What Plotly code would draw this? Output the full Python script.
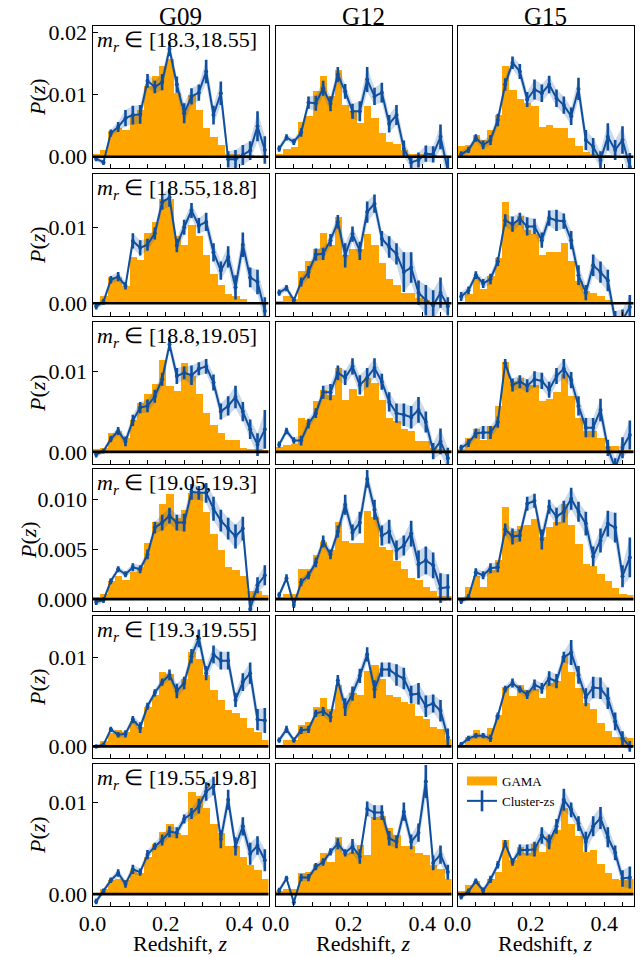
import plotly.graph_objects as go

W, H = 644, 957

# ---------------- data ----------------
FIELDS = ["G09", "G12", "G15"]
MAG_BINS = ["[18.3,18.55]", "[18.55,18.8]", "[18.8,19.05]",
            "[19.05,19.3]", "[19.3,19.55]", "[19.55,19.8]"]
Z_CENTERS = [0.01, 0.03, 0.05, 0.07, 0.09, 0.11, 0.13, 0.15, 0.17, 0.19, 0.21, 0.23,
             0.25, 0.27, 0.29, 0.31, 0.33, 0.35, 0.37, 0.39, 0.41, 0.43, 0.45, 0.47]
BIN_WIDTH = 0.02
X_TICKS = [0.0, 0.2, 0.4]
X_TICK_TEXT = ["0.0", "0.2", "0.4"]
Y_TICKS = [[0, 0.01, 0.02], [0, 0.01], [0, 0.01], [0, 0.005, 0.01], [0, 0.01], [0, 0.01]]
Y_TICK_TEXT = [["0.00", "0.01", "0.02"], ["0.00", "0.01"], ["0.00", "0.01"],
               ["0.000", "0.005", "0.010"], ["0.00", "0.01"], ["0.00", "0.01"]]
Y_RANGES = [[-0.0018, 0.0210], [-0.00167, 0.0170], [-0.0015, 0.0161],
            [-0.0012, 0.0131], [-0.0013, 0.0146], [-0.0013, 0.0142]]

# row 1: m_r in [18.3,18.55]
GAMA_G09_1 = [0.0005,0.0011,0.0041,0.0046,0.0043,0.0067,0.0075,0.0114,0.0129,0.0146,0.0157,0.0103,
              0.0078,0.0100,0.0075,0.0046,0.0031,0.0019,0.0005,0.0004,0.0002,0.0002,0.0001,0.0001]
CZ_G09_1 = [-0.0003,-0.0009,0.0038,0.0048,0.0062,0.0067,0.0068,0.0122,0.0112,0.0120,0.0173,0.0116,
            0.0070,0.0097,0.0103,0.0137,0.0067,0.0102,-0.0004,-0.0004,0.0003,0.0010,0.0049,0.0011]
ERR_G09_1 = [0.0004,0.0004,0.0006,0.0008,0.0013,0.0015,0.0015,0.0011,0.0010,0.0013,0.0011,0.0013,
             0.0016,0.0013,0.0013,0.0019,0.0015,0.0019,0.0013,0.0015,0.0016,0.0015,0.0024,0.0022]
GAMA_G12_1 = [0.0005,0.0012,0.0016,0.0056,0.0066,0.0106,0.0130,0.0097,0.0140,0.0083,0.0073,0.0055,
              0.0081,0.0063,0.0039,0.0023,0.0020,0.0011,0.0005,0.0005,0.0002,0.0002,0.0001,0.0000]
CZ_G12_1 = [0.0013,0.0031,0.0024,0.0039,0.0087,0.0086,0.0110,0.0085,0.0132,0.0105,0.0073,0.0073,
            0.0124,0.0097,0.0103,0.0053,0.0067,0.0013,-0.0009,-0.0005,0.0005,0.0004,0.0032,-0.0022]
ERR_G12_1 = [0.0005,0.0005,0.0005,0.0007,0.0010,0.0012,0.0012,0.0012,0.0012,0.0012,0.0012,0.0016,
             0.0020,0.0014,0.0016,0.0014,0.0016,0.0013,0.0010,0.0012,0.0013,0.0013,0.0020,0.0020]
GAMA_G15_1 = [0.0017,0.0019,0.0035,0.0027,0.0043,0.0067,0.0145,0.0108,0.0093,0.0086,0.0082,0.0048,
              0.0051,0.0047,0.0047,0.0030,0.0018,0.0008,0.0005,0.0003,0.0003,0.0001,0.0001,0.0000]
CZ_G15_1 = [0.0004,0.0011,0.0030,0.0019,0.0027,0.0059,0.0116,0.0151,0.0137,0.0092,0.0108,0.0102,
            0.0116,0.0094,0.0083,0.0065,0.0109,0.0027,0.0016,-0.0005,0.0032,0.0011,0.0027,-0.0016]
ERR_G15_1 = [0.0005,0.0005,0.0006,0.0007,0.0008,0.0010,0.0010,0.0010,0.0012,0.0012,0.0016,0.0014,
             0.0014,0.0014,0.0014,0.0014,0.0018,0.0016,0.0014,0.0014,0.0022,0.0016,0.0022,0.0022]

# row 2: m_r in [18.55,18.8]
GAMA_G09_2 = [0.0002,0.0010,0.0034,0.0034,0.0023,0.0061,0.0057,0.0093,0.0107,0.0137,0.0137,0.0089,
              0.0077,0.0103,0.0089,0.0063,0.0039,0.0024,0.0012,0.0009,0.0006,0.0001,0.0000,0.0000]
CZ_G09_2 = [-0.0004,0.0002,0.0031,0.0035,0.0023,0.0082,0.0073,0.0077,0.0092,0.0133,0.0139,0.0076,
            0.0100,0.0122,0.0102,0.0107,0.0067,0.0043,0.0061,0.0021,0.0077,0.0034,0.0028,-0.0010]
ERR_G09_2 = [0.0004,0.0004,0.0005,0.0006,0.0005,0.0010,0.0010,0.0008,0.0008,0.0010,0.0012,0.0009,
             0.0010,0.0010,0.0010,0.0012,0.0012,0.0012,0.0014,0.0016,0.0016,0.0013,0.0016,0.0018]
GAMA_G12_2 = [0.0003,0.0010,0.0006,0.0043,0.0055,0.0071,0.0093,0.0076,0.0113,0.0063,0.0071,0.0071,
              0.0091,0.0077,0.0053,0.0032,0.0024,0.0014,0.0014,0.0007,0.0004,0.0002,0.0002,0.0000]
CZ_G12_2 = [0.0014,0.0020,0.0004,0.0028,0.0041,0.0064,0.0065,0.0083,0.0107,0.0063,0.0091,0.0069,
            0.0120,0.0131,0.0085,0.0074,0.0065,0.0041,0.0047,0.0014,0.0004,-0.0003,0.0014,-0.0004]
ERR_G12_2 = [0.0004,0.0004,0.0004,0.0006,0.0008,0.0008,0.0008,0.0008,0.0009,0.0016,0.0010,0.0012,
             0.0014,0.0012,0.0010,0.0014,0.0014,0.0026,0.0020,0.0016,0.0020,0.0020,0.0020,0.0012]
GAMA_G15_2 = [0.0002,0.0012,0.0034,0.0019,0.0036,0.0059,0.0133,0.0107,0.0115,0.0096,0.0091,0.0063,
              0.0068,0.0068,0.0079,0.0056,0.0029,0.0016,0.0014,0.0010,0.0004,0.0001,0.0000,0.0000]
CZ_G15_2 = [0.0009,0.0017,0.0037,0.0026,0.0032,0.0055,0.0109,0.0104,0.0111,0.0101,0.0101,0.0083,
            0.0112,0.0109,0.0108,0.0083,0.0037,0.0014,0.0050,0.0041,0.0030,-0.0022,-0.0022,-0.0005]
ERR_G15_2 = [0.0006,0.0005,0.0005,0.0006,0.0007,0.0006,0.0008,0.0010,0.0008,0.0012,0.0010,0.0010,
             0.0010,0.0014,0.0010,0.0012,0.0013,0.0010,0.0014,0.0014,0.0014,0.0012,0.0014,0.0016]

# row 3: m_r in [18.8,19.05]
GAMA_G09_3 = [0.0004,0.0005,0.0024,0.0026,0.0017,0.0040,0.0060,0.0072,0.0084,0.0114,0.0082,0.0076,
              0.0110,0.0094,0.0072,0.0048,0.0033,0.0024,0.0015,0.0015,0.0005,0.0004,0.0003,0.0002]
CZ_G09_3 = [-0.0003,0.0001,0.0016,0.0026,0.0013,0.0039,0.0055,0.0057,0.0069,0.0090,0.0133,0.0094,
            0.0098,0.0095,0.0103,0.0106,0.0086,0.0050,0.0057,0.0068,0.0050,0.0028,0.0009,0.0028]
ERR_G09_3 = [0.0004,0.0003,0.0004,0.0005,0.0006,0.0007,0.0007,0.0008,0.0008,0.0008,0.0008,0.0010,
             0.0008,0.0012,0.0008,0.0009,0.0010,0.0010,0.0012,0.0014,0.0012,0.0012,0.0014,0.0024]
GAMA_G12_3 = [0.0006,0.0008,0.0010,0.0042,0.0040,0.0063,0.0077,0.0070,0.0104,0.0064,0.0078,0.0069,
              0.0092,0.0086,0.0064,0.0042,0.0038,0.0029,0.0026,0.0014,0.0013,0.0005,0.0003,0.0002]
CZ_G12_3 = [0.0009,0.0026,0.0014,0.0014,0.0035,0.0048,0.0074,0.0074,0.0098,0.0092,0.0106,0.0083,
            0.0092,0.0104,0.0087,0.0062,0.0048,0.0046,0.0043,0.0052,0.0037,0.0001,0.0013,-0.0008]
ERR_G12_3 = [0.0004,0.0004,0.0004,0.0006,0.0006,0.0006,0.0008,0.0010,0.0009,0.0009,0.0010,0.0012,
             0.0012,0.0012,0.0010,0.0012,0.0012,0.0014,0.0014,0.0016,0.0013,0.0010,0.0016,0.0013]
GAMA_G15_3 = [0.0004,0.0017,0.0029,0.0015,0.0032,0.0057,0.0112,0.0088,0.0092,0.0083,0.0083,0.0063,
              0.0065,0.0074,0.0096,0.0069,0.0042,0.0026,0.0026,0.0017,0.0007,0.0007,0.0002,0.0002]
CZ_G15_3 = [0.0005,0.0011,0.0023,0.0024,0.0024,0.0037,0.0110,0.0083,0.0087,0.0082,0.0090,0.0088,
            0.0077,0.0094,0.0103,0.0089,0.0057,0.0030,0.0030,0.0052,0.0005,-0.0020,0.0005,0.0021]
ERR_G15_3 = [0.0004,0.0005,0.0006,0.0008,0.0008,0.0007,0.0005,0.0008,0.0008,0.0008,0.0010,0.0010,
             0.0010,0.0010,0.0012,0.0010,0.0012,0.0012,0.0012,0.0014,0.0010,0.0012,0.0013,0.0018]

# row 4: m_r in [19.05,19.3]
GAMA_G09_4 = [0.0002,0.0005,0.0018,0.0023,0.0019,0.0027,0.0032,0.0056,0.0078,0.0096,0.0106,0.0082,
              0.0090,0.0107,0.0106,0.0088,0.0066,0.0049,0.0032,0.0029,0.0023,0.0008,0.0008,0.0004]
CZ_G09_4 = [-0.0003,-0.0001,0.0018,0.0030,0.0025,0.0032,0.0030,0.0045,0.0072,0.0077,0.0084,0.0077,
            0.0077,0.0108,0.0107,0.0107,0.0091,0.0079,0.0071,0.0063,0.0071,-0.0010,0.0014,0.0024]
ERR_G09_4 = [0.0003,0.0003,0.0003,0.0003,0.0003,0.0004,0.0004,0.0005,0.0006,0.0008,0.0008,0.0008,
             0.0009,0.0008,0.0007,0.0010,0.0012,0.0011,0.0011,0.0012,0.0012,0.0010,0.0008,0.0010]
GAMA_G12_4 = [0.0002,0.0005,0.0005,0.0030,0.0030,0.0044,0.0057,0.0049,0.0078,0.0058,0.0056,0.0056,
              0.0089,0.0083,0.0052,0.0049,0.0038,0.0030,0.0021,0.0019,0.0012,0.0008,0.0003,0.0003]
CZ_G12_4 = [0.0004,0.0021,-0.0006,0.0017,0.0024,0.0037,0.0058,0.0045,0.0068,0.0095,0.0067,0.0077,
            0.0121,0.0090,0.0064,0.0068,0.0049,0.0054,0.0066,0.0035,0.0039,0.0034,0.0011,0.0012]
ERR_G12_4 = [0.0003,0.0004,0.0003,0.0004,0.0004,0.0005,0.0006,0.0005,0.0006,0.0010,0.0008,0.0011,
             0.0009,0.0010,0.0010,0.0012,0.0010,0.0010,0.0013,0.0014,0.0014,0.0013,0.0015,0.0013]
GAMA_G15_4 = [0.0002,0.0012,0.0023,0.0012,0.0029,0.0039,0.0093,0.0069,0.0074,0.0075,0.0081,0.0063,
              0.0073,0.0078,0.0096,0.0075,0.0055,0.0035,0.0033,0.0025,0.0018,0.0011,0.0005,0.0004]
CZ_G15_4 = [-0.0002,0.0002,0.0027,0.0024,0.0031,0.0032,0.0070,0.0063,0.0064,0.0096,0.0099,0.0060,
            0.0093,0.0083,0.0088,0.0101,0.0088,0.0076,0.0043,0.0059,0.0076,0.0072,0.0023,0.0042]
ERR_G15_4 = [0.0003,0.0003,0.0004,0.0004,0.0005,0.0005,0.0006,0.0008,0.0006,0.0007,0.0007,0.0010,
             0.0007,0.0009,0.0011,0.0011,0.0010,0.0012,0.0010,0.0012,0.0013,0.0015,0.0011,0.0020]

# row 5: m_r in [19.3,19.55]
GAMA_G09_5 = [0.0002,0.0006,0.0015,0.0018,0.0016,0.0028,0.0022,0.0044,0.0058,0.0083,0.0081,0.0065,
              0.0075,0.0106,0.0098,0.0080,0.0063,0.0052,0.0041,0.0037,0.0032,0.0021,0.0016,0.0007]
CZ_G09_5 = [0.0000,0.0002,0.0019,0.0013,0.0014,0.0030,0.0021,0.0045,0.0060,0.0072,0.0080,0.0062,
            0.0071,0.0101,0.0121,0.0082,0.0103,0.0096,0.0096,0.0052,0.0072,0.0082,0.0030,0.0029]
ERR_G09_5 = [0.0002,0.0002,0.0003,0.0003,0.0004,0.0004,0.0006,0.0004,0.0004,0.0004,0.0006,0.0008,
             0.0007,0.0008,0.0010,0.0008,0.0010,0.0010,0.0010,0.0008,0.0010,0.0012,0.0012,0.0014]
GAMA_G12_5 = [0.0002,0.0007,0.0007,0.0024,0.0027,0.0044,0.0054,0.0042,0.0069,0.0049,0.0060,0.0058,
              0.0084,0.0091,0.0075,0.0057,0.0055,0.0050,0.0047,0.0034,0.0031,0.0022,0.0019,0.0008]
CZ_G12_5 = [0.0007,0.0019,0.0007,0.0018,0.0019,0.0037,0.0039,0.0033,0.0074,0.0044,0.0059,0.0079,
            0.0103,0.0064,0.0086,0.0086,0.0080,0.0076,0.0058,0.0059,0.0045,0.0048,0.0040,0.0010]
ERR_G12_5 = [0.0003,0.0004,0.0003,0.0004,0.0004,0.0004,0.0005,0.0006,0.0006,0.0010,0.0008,0.0008,
             0.0008,0.0010,0.0008,0.0008,0.0012,0.0012,0.0010,0.0012,0.0012,0.0010,0.0012,0.0010]
GAMA_G15_5 = [0.0002,0.0011,0.0018,0.0012,0.0021,0.0035,0.0067,0.0056,0.0069,0.0063,0.0064,0.0054,
              0.0071,0.0073,0.0101,0.0083,0.0065,0.0049,0.0042,0.0026,0.0017,0.0011,0.0010,0.0009]
CZ_G15_5 = [0.0002,0.0009,0.0012,0.0012,0.0009,0.0034,0.0064,0.0071,0.0064,0.0058,0.0069,0.0065,
            0.0076,0.0073,0.0100,0.0105,0.0080,0.0055,0.0066,0.0065,0.0054,0.0028,0.0009,0.0000]
ERR_G15_5 = [0.0003,0.0003,0.0003,0.0003,0.0004,0.0004,0.0004,0.0005,0.0004,0.0005,0.0006,0.0006,
             0.0008,0.0008,0.0006,0.0014,0.0010,0.0010,0.0012,0.0012,0.0012,0.0010,0.0008,0.0006]

# row 6: m_r in [19.55,19.8]
GAMA_G09_6 = [0.0001,0.0006,0.0015,0.0017,0.0015,0.0026,0.0023,0.0041,0.0055,0.0068,0.0076,0.0067,
              0.0064,0.0111,0.0107,0.0094,0.0077,0.0067,0.0053,0.0052,0.0041,0.0032,0.0026,0.0016]
CZ_G09_6 = [-0.0008,0.0003,0.0015,0.0023,0.0011,0.0027,0.0024,0.0043,0.0052,0.0059,0.0068,0.0067,
            0.0082,0.0088,0.0096,0.0112,0.0118,0.0060,0.0103,0.0052,0.0074,0.0044,0.0053,0.0037]
ERR_G09_6 = [0.0003,0.0003,0.0003,0.0004,0.0004,0.0005,0.0004,0.0005,0.0004,0.0006,0.0006,0.0006,
             0.0005,0.0006,0.0008,0.0010,0.0010,0.0010,0.0011,0.0010,0.0010,0.0012,0.0010,0.0012]
GAMA_G12_6 = [0.0003,0.0006,0.0006,0.0023,0.0024,0.0033,0.0045,0.0035,0.0062,0.0045,0.0046,0.0054,
              0.0043,0.0084,0.0085,0.0072,0.0064,0.0053,0.0053,0.0045,0.0043,0.0032,0.0027,0.0016]
CZ_G12_6 = [0.0004,0.0017,-0.0009,0.0018,0.0018,0.0030,0.0035,0.0046,0.0055,0.0045,0.0052,0.0041,
            0.0093,0.0089,0.0089,0.0061,0.0057,0.0090,0.0057,0.0067,0.0123,0.0034,0.0043,0.0024]
ERR_G12_6 = [0.0003,0.0003,0.0003,0.0004,0.0004,0.0004,0.0004,0.0004,0.0006,0.0004,0.0008,0.0008,
             0.0008,0.0008,0.0008,0.0008,0.0007,0.0010,0.0008,0.0010,0.0018,0.0008,0.0010,0.0008]
GAMA_G15_6 = [0.0003,0.0010,0.0014,0.0008,0.0017,0.0024,0.0059,0.0037,0.0051,0.0045,0.0055,0.0046,
              0.0063,0.0070,0.0094,0.0077,0.0063,0.0046,0.0048,0.0033,0.0023,0.0016,0.0015,0.0016]
CZ_G15_6 = [-0.0003,0.0003,0.0014,0.0004,0.0016,0.0032,0.0055,0.0035,0.0048,0.0048,0.0049,0.0064,
            0.0057,0.0074,0.0103,0.0092,0.0077,0.0057,0.0074,0.0083,0.0062,0.0045,0.0017,0.0018]
ERR_G15_6 = [0.0003,0.0003,0.0003,0.0003,0.0004,0.0004,0.0004,0.0004,0.0006,0.0006,0.0008,0.0009,
             0.0008,0.0008,0.0012,0.0008,0.0008,0.0011,0.0011,0.0012,0.0011,0.0008,0.0009,0.0012]

PANELS = {
    (0, 0): (GAMA_G09_1, CZ_G09_1, ERR_G09_1), (0, 1): (GAMA_G12_1, CZ_G12_1, ERR_G12_1), (0, 2): (GAMA_G15_1, CZ_G15_1, ERR_G15_1),
    (1, 0): (GAMA_G09_2, CZ_G09_2, ERR_G09_2), (1, 1): (GAMA_G12_2, CZ_G12_2, ERR_G12_2), (1, 2): (GAMA_G15_2, CZ_G15_2, ERR_G15_2),
    (2, 0): (GAMA_G09_3, CZ_G09_3, ERR_G09_3), (2, 1): (GAMA_G12_3, CZ_G12_3, ERR_G12_3), (2, 2): (GAMA_G15_3, CZ_G15_3, ERR_G15_3),
    (3, 0): (GAMA_G09_4, CZ_G09_4, ERR_G09_4), (3, 1): (GAMA_G12_4, CZ_G12_4, ERR_G12_4), (3, 2): (GAMA_G15_4, CZ_G15_4, ERR_G15_4),
    (4, 0): (GAMA_G09_5, CZ_G09_5, ERR_G09_5), (4, 1): (GAMA_G12_5, CZ_G12_5, ERR_G12_5), (4, 2): (GAMA_G15_5, CZ_G15_5, ERR_G15_5),
    (5, 0): (GAMA_G09_6, CZ_G09_6, ERR_G09_6), (5, 1): (GAMA_G12_6, CZ_G12_6, ERR_G12_6), (5, 2): (GAMA_G15_6, CZ_G15_6, ERR_G15_6),
}

# ---------------- layout geometry (pixels) ----------------
COL_X = [(92.5, 268.5), (275.5, 451.5), (457.5, 633.5)]
ROW_TOP = [26, 174, 322, 469, 616, 764]
ROW_H = 142
YLABEL_X = [37, 37, 37, 28, 37, 37]

FONT = "Liberation Serif, Times New Roman, serif"
ORANGE = "#FFA500"
BLUE = "#0f4f9e"
BAND = "rgba(40,100,175,0.25)"

def px(x):
    return x / W

def py(y):
    return 1 - y / H

fig = go.Figure()
layout = dict(
    template="none",
    width=W, height=H, margin=dict(l=0, r=0, t=0, b=0, pad=0), autosize=False,
    paper_bgcolor="white", plot_bgcolor="white",
    font=dict(family=FONT, size=22, color="black"),
    showlegend=True, bargap=0,
    legend=dict(x=px(462), y=py(766), xanchor="left", yanchor="top", traceorder="normal",
                font=dict(family=FONT, size=13, color="black"),
                bgcolor="rgba(0,0,0,0)", borderwidth=0, tracegroupgap=0, itemwidth=30),
)
annotations = []
shapes = []

for r in range(6):
    for c in range(3):
        k = r * 3 + c + 1
        xa = "x" if k == 1 else f"x{k}"
        ya = "y" if k == 1 else f"y{k}"
        gama, cz, err = PANELS[(r, c)]
        upper = [v + e for v, e in zip(cz, err)]
        lower = [v - e for v, e in zip(cz, err)]

        fig.add_trace(go.Bar(x=Z_CENTERS, y=gama, width=BIN_WIDTH, marker=dict(color=ORANGE, line=dict(width=0)),
                             xaxis=xa, yaxis=ya, name="GAMA", showlegend=False))
        fig.add_trace(go.Scatter(x=Z_CENTERS, y=upper, mode="lines", line=dict(width=0, color=BAND),
                                 xaxis=xa, yaxis=ya, showlegend=False, hoverinfo="skip"))
        fig.add_trace(go.Scatter(x=Z_CENTERS, y=lower, mode="lines", line=dict(width=0, color=BAND),
                                 fill="tonexty", fillcolor=BAND,
                                 xaxis=xa, yaxis=ya, showlegend=False, hoverinfo="skip"))
        fig.add_trace(go.Scatter(x=Z_CENTERS, y=cz, mode="lines+markers",
                                 line=dict(color=BLUE, width=2), marker=dict(color=BLUE, size=4),
                                 error_y=dict(type="data", array=err, color=BLUE, thickness=2.6, width=0),
                                 xaxis=xa, yaxis=ya, name="Cluster-zs", showlegend=False))

        x0, x1 = COL_X[c]
        top = ROW_TOP[r]
        bot = top + ROW_H
        axkey_x = "xaxis" if k == 1 else f"xaxis{k}"
        axkey_y = "yaxis" if k == 1 else f"yaxis{k}"
        layout[axkey_x] = dict(
            domain=[px(x0), px(x1)], anchor=ya, range=[0, 0.48], automargin=False,
            showline=True, mirror=True, linecolor="black", linewidth=1,
            ticks="inside", ticklen=4, tickwidth=1, tickcolor="black",
            tickvals=X_TICKS, ticktext=X_TICK_TEXT, showticklabels=(r == 5),
            ticklabelstandoff=-2,
            minor=dict(ticks="inside", ticklen=4, dtick=0.05, tick0=0, tickcolor="black", showgrid=False),
            showgrid=False, zeroline=False, fixedrange=True,
            tickfont=dict(family=FONT, size=22),
        )
        layout[axkey_y] = dict(
            domain=[py(bot), py(top)], anchor=xa, range=Y_RANGES[r], automargin=False,
            showline=True, mirror=True, linecolor="black", linewidth=1,
            ticks="inside" if c == 0 else "", ticklen=5, tickwidth=1, tickcolor="black",
            tickvals=Y_TICKS[r], ticktext=Y_TICK_TEXT[r], showticklabels=(c == 0),
            showgrid=False, zeroline=False, fixedrange=True,
            tickfont=dict(family=FONT, size=22),
        )
        shapes.append(dict(type="line", xref=f"{xa} domain", yref=ya, x0=0, x1=1, y0=0, y1=0,
                           line=dict(color="black", width=2.6), layer="above"))

    top = ROW_TOP[r]
    annotations.append(dict(x=px(COL_X[0][0] + 2), y=py(top - 1), xref="paper", yref="paper",
                            xanchor="left", yanchor="top", showarrow=False,
                            text=f"<i>m<sub>r</sub></i> ∈ {MAG_BINS[r]}",
                            font=dict(family=FONT, size=22, color="black")))
    annotations.append(dict(x=px(YLABEL_X[r]), y=py(top + ROW_H / 2), xref="paper", yref="paper",
                            xanchor="center", yanchor="middle", showarrow=False, textangle=-90,
                            text="<i>P</i>(<i>z</i>)", font=dict(family=FONT, size=22, color="black")))

# legend entries (legend-only proxies styled like the reference legend)
fig.add_trace(go.Scatter(x=[None], y=[None], mode="lines", name="GAMA",
                         line=dict(color=ORANGE, width=9), xaxis="x18", yaxis="y18", showlegend=True))
fig.add_trace(go.Scatter(x=[None], y=[None], mode="lines+markers", name="Cluster-zs",
                         line=dict(color=BLUE, width=2),
                         marker=dict(symbol="line-ns-open", size=15, color=BLUE, line=dict(width=2.6, color=BLUE)),
                         xaxis="x18", yaxis="y18", showlegend=True))

for c in range(3):
    cx = (COL_X[c][0] + COL_X[c][1]) / 2
    annotations.append(dict(x=px(cx), y=py(16), xref="paper", yref="paper", xanchor="center", yanchor="middle",
                            showarrow=False, text=FIELDS[c], font=dict(family=FONT, size=25, color="black")))
    annotations.append(dict(x=px(cx), y=py(943), xref="paper", yref="paper", xanchor="center", yanchor="middle",
                            showarrow=False, text="Redshift, <i>z</i>", font=dict(family=FONT, size=22, color="black")))

layout["annotations"] = annotations
layout["shapes"] = shapes
fig.update_layout(**layout)
fig.write_html("out.html", config={"displayModeBar": False},
               post_script="document.body.style.margin='0';document.body.style.padding='0';")
